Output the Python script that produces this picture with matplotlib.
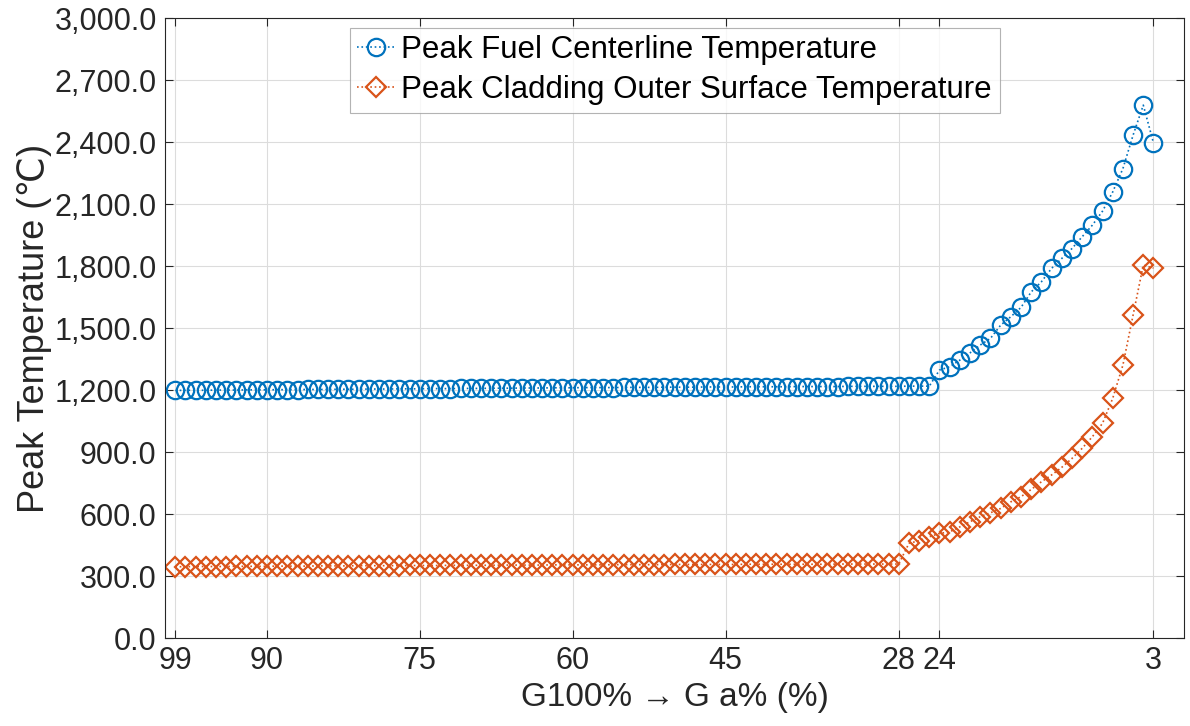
import matplotlib
matplotlib.use("Agg")
import matplotlib.pyplot as plt
from matplotlib.ticker import FuncFormatter

plt.rcParams['font.family'] = ['Liberation Sans', 'DejaVu Sans']

# G a% values, 99 down to 3
g_pct = list(range(99, 2, -1))

# peak fuel centerline temperature (C)
fuel_temp = [
    1198, 1199, 1199, 1199, 1200, 1200, 1200, 1201, 1201, 1201,
    1202, 1202, 1202, 1203, 1203, 1203, 1204, 1204, 1204, 1205,
    1205, 1205, 1206, 1206, 1206, 1207, 1207, 1207, 1208, 1208,
    1208, 1209, 1209, 1209, 1210, 1210, 1210, 1211, 1211, 1211,
    1212, 1212, 1212, 1212, 1213, 1213, 1213, 1213, 1214, 1214,
    1214, 1214, 1215, 1215, 1215, 1215, 1216, 1216, 1216, 1216,
    1216, 1217, 1217, 1217, 1217, 1217, 1218, 1218, 1218, 1218,
    1218, 1218, 1219, 1219, 1219,
    1297, 1313, 1345, 1380, 1418, 1450, 1514, 1555, 1600, 1675,
    1724, 1789, 1837, 1885, 1942, 1998, 2066, 2159, 2272, 2434,
    2579, 2396,
]

# peak cladding outer surface temperature (C)
clad_temp = [
    345, 345, 346, 346, 346, 346, 347, 347, 347, 347,
    348, 348, 348, 348, 349, 349, 349, 349, 350, 350,
    350, 350, 350, 351, 351, 351, 351, 352, 352, 352,
    352, 352, 353, 353, 353, 353, 353, 354, 354, 354,
    354, 354, 354, 355, 355, 355, 355, 355, 355, 356,
    356, 356, 356, 356, 356, 356, 357, 357, 357, 357,
    357, 357, 357, 357, 357, 358, 358, 358, 358, 358,
    358, 358,
    458, 471, 490, 506, 514, 538, 563, 587, 606, 627,
    659, 684, 719, 756, 789, 826, 869, 918, 974, 1039,
    1160, 1321, 1563, 1805, 1790,
]

x_ticks = [99, 90, 75, 60, 45, 28, 24, 3]
y_ticks = [0, 300, 600, 900, 1200, 1500, 1800, 2100, 2400, 2700, 3000]

blue = '#0072BD'
orange = '#D95319'
txt = '#262626'

fig = plt.figure(figsize=(11.9, 7.26), dpi=100)
ax = fig.add_axes([0.1387, 0.1212, 0.8563, 0.8538])

ax.plot(g_pct, fuel_temp, linestyle=':', color=blue, linewidth=1.2,
        marker='o', markersize=12.5, markerfacecolor='none',
        markeredgewidth=1.6, label='Peak Fuel Centerline Temperature')
ax.plot(g_pct, clad_temp, linestyle=':', color=orange, linewidth=1.2,
        marker='D', markersize=10.5, markerfacecolor='none',
        markeredgewidth=1.6, label='Peak Cladding Outer Surface Temperature')

ax.set_xlim(100, 0)
ax.set_ylim(0, 3000)
ax.set_xticks(x_ticks)
ax.set_xticklabels([str(v) for v in x_ticks])
ax.set_yticks(y_ticks)
ax.yaxis.set_major_formatter(FuncFormatter(lambda v, p: f'{v:,.1f}'))

ax.grid(True, color='#dcdcdc', linewidth=0.8)
ax.set_axisbelow(True)
ax.tick_params(direction='in', length=6, width=0.8, labelsize=22,
               colors=txt, top=True, right=True, pad=6)
for sp in ax.spines.values():
    sp.set_color('#262626')
    sp.set_linewidth(0.8)

ax.set_xlabel('G100% \u2192 G a% (%)', fontsize=24, color=txt, labelpad=4)
ax.set_ylabel('Peak Temperature (\u2103)', fontsize=26, color=txt, labelpad=2)

leg = ax.legend(loc='upper center', bbox_to_anchor=(0.5, 1.0), fontsize=22.5,
                frameon=True, fancybox=False, edgecolor='#a0a0a0',
                handlelength=1.2, handletextpad=0.2, borderpad=0.25,
                labelspacing=0.3, borderaxespad=0.3)
leg.get_frame().set_linewidth(0.8)

fig.savefig('out.png', dpi=100)
